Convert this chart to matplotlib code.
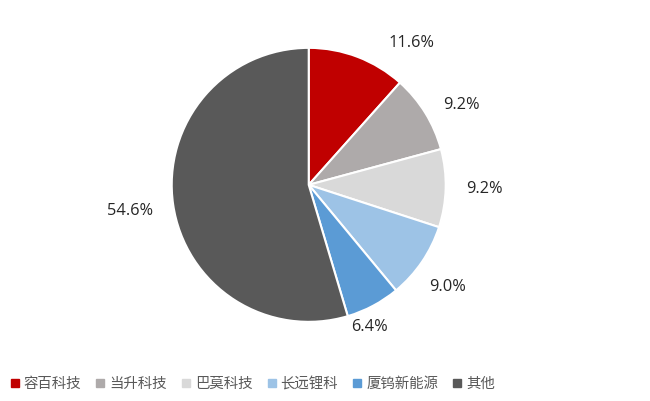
import numpy as np
import matplotlib.pyplot as plt
from matplotlib.lines import Line2D

plt.rcParams['font.family'] = ['Noto Sans CJK SC', 'DejaVu Sans']

# data
companies = ['容百科技', '当升科技', '巴莫科技', '长远锂科', '厦钨新能源', '其他']
shares = [11.6, 9.2, 9.2, 9.0, 6.4, 54.6]
colors = ['#C00000', '#AEAAAA', '#D9D9D9', '#9DC3E6', '#5B9BD5', '#595959']

# label angle tweaks (degrees), like excel's placement
label_shift = [-15, -4, 0, -2, -5, 0]
label_dist = [1.28, 1.26, 1.28, 1.26, 1.13, 1.32]

fig = plt.figure(figsize=(6.5, 4.01), dpi=100)
ax = fig.add_axes([0.475 - 0.2108, 0.539 - 0.3416, 0.4215, 0.6833])

wedges, _ = ax.pie(shares, colors=colors, startangle=90, counterclock=False,
                   wedgeprops=dict(edgecolor='white', linewidth=1.5))
ax.set_xlim(-1, 1)
ax.set_ylim(-1, 1)
ax.set_aspect('equal')
ax.axis('off')

for w, v, sh, d in zip(wedges, shares, label_shift, label_dist):
    ang = np.deg2rad((w.theta1 + w.theta2) / 2 + sh)
    ax.text(d * np.cos(ang), d * np.sin(ang), f'{v:.1f}%', ha='center', va='center',
            fontsize=11.8, color='#262626', family=['Open Sans', 'DejaVu Sans'],
            clip_on=False)

handles = [Line2D([], [], marker='s', linestyle='none', markersize=5.5,
                  markerfacecolor=c, markeredgecolor=c) for c in colors]
fig.legend(handles, companies, loc='lower left', bbox_to_anchor=(-0.004, -0.008),
           ncol=6, frameon=False, fontsize=10.4, labelcolor='#595959',
           handlelength=0.6, handletextpad=0.3, columnspacing=1.05)

fig.savefig('out.png', dpi=100)
